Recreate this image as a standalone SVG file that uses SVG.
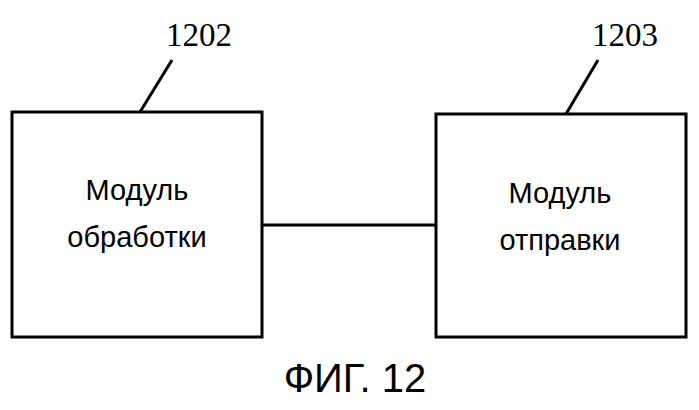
<svg xmlns="http://www.w3.org/2000/svg" width="699" height="410" viewBox="0 0 699 410">
<style>
.b{fill:#fff;stroke:#000;stroke-width:3}
.t{font-family:"Liberation Sans",Arial,sans-serif;font-size:29px;text-anchor:middle}
.n{font-family:"Liberation Serif","Times New Roman",serif;font-size:33px;text-anchor:middle}
.l{stroke:#000;stroke-width:3;fill:none}
</style>
<rect width="699" height="410" fill="#fff"/>
<g id="node1202">
<rect class="b" x="12" y="112" width="250" height="225"/>
<text class="t" x="137" y="200">Модуль</text>
<text class="t" x="137" y="247">обработки</text>
<text class="n" x="199" y="46">1202</text>
</g>
<g id="node1203">
<rect class="b" x="436" y="114" width="250" height="223"/>
<text class="t" x="560" y="203">Модуль</text>
<text class="t" x="560" y="250">отправки</text>
<text class="n" x="625" y="46">1203</text>
</g>
<g id="connectors">
<line class="l" x1="262" y1="225" x2="436" y2="225"/>
<line class="l" x1="140" y1="112" x2="172" y2="60"/>
<line class="l" x1="566" y1="114" x2="598" y2="60"/>
</g>
<text x="355" y="392" style="font-family:'Liberation Sans',Arial,sans-serif;font-size:40px;text-anchor:middle">ФИГ. 12</text>
</svg>
